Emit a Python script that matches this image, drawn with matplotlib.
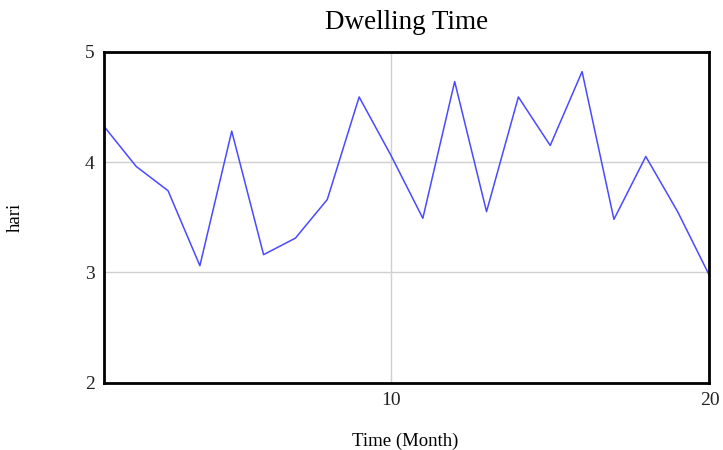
import matplotlib
matplotlib.use('Agg')
import matplotlib.pyplot as plt

# data
months = [1, 2, 3, 4, 5, 6, 7, 8, 9, 10, 11, 12, 13, 14, 15, 16, 17, 18, 19, 20]
dwelling = [4.32, 3.96, 3.74, 3.06, 4.28, 3.16, 3.31, 3.66, 4.59, 4.06,
            3.49, 4.73, 3.55, 4.59, 4.15, 4.82, 3.48, 4.05, 3.55, 2.97]
y_ticks = [2, 3, 4, 5]
x_ticks = [10, 20]

plt.rcParams['font.family'] = ['Liberation Serif', 'DejaVu Serif']

fig = plt.figure(figsize=(7.23, 4.5), dpi=100)
ax = fig.add_axes([0.1443, 0.1498, 0.8370, 0.7352])

ax.plot(months, dwelling, color='#4a4aff', linewidth=1.1)

ax.set_xlim(1, 20)
ax.set_ylim(2, 5)
ax.set_xticks(x_ticks)
ax.set_yticks(y_ticks)
ax.tick_params(length=0, labelsize=14, pad=7, colors='#222222')
ax.grid(True, color='#d0d0d0', linewidth=1)

for s in ax.spines.values():
    s.set_linewidth(2)
    s.set_color('black')

fig.text(0.562, 0.949, 'Dwelling Time', ha='center', va='center', fontsize=19.5)
fig.text(0.021, 0.518, 'hari', ha='center', va='center', rotation=90, fontsize=13.5)
fig.text(0.560, 0.019, 'Time (Month)', ha='center', va='center', fontsize=13.5)

fig.savefig('out.png', dpi=100)
